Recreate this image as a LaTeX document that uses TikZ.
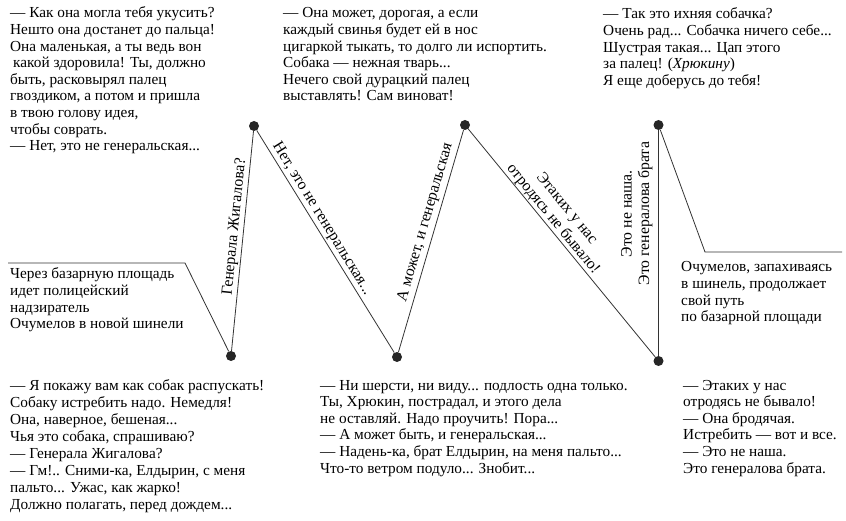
\documentclass[tikz,border=0pt]{standalone}
\usepackage{fontspec}
\setmainfont{Liberation Serif}
\newcommand{\fsz}{\fontsize{15.3}{16.6}\selectfont}
\newcommand{\fszb}{\fontsize{15.3}{17.1}\selectfont}
\newcommand{\fszl}{\fontsize{15.8}{17.5}\selectfont}
\newcommand{\tb}[1]{\begin{tabular}[t]{@{}l@{}}#1\end{tabular}}
\newcommand{\lb}[1]{\begin{tabular}[b]{@{}c@{}}#1\end{tabular}}
\tikzset{
  conn/.style={draw=black!80, line width=0.8pt},
  dot/.style={circle, fill=black!85, inner sep=0pt, minimum size=10pt},
  txt/.style={anchor=base west, inner sep=0pt, font=\fsz},
  lab/.style={sloped, inner sep=0pt, font=\fszl, text depth=0pt}
}
\begin{document}
\begin{tikzpicture}[x=1pt,y=1pt]
\useasboundingbox (0,0) rectangle (846,520);
% path points
\coordinate (s0) at (8,257);
\coordinate (s1) at (185,257);
\node[dot] (p1) at (231,164) {};
\node[dot] (p2) at (254,394) {};
\node[dot] (p3) at (397,163) {};
\node[dot] (p4) at (465,395) {};
\node[dot] (p5) at (658.5,159) {};
\node[dot] (p6) at (658.5,395) {};
\coordinate (e1) at (705,268);
\coordinate (e2) at (842,268);
% connectors
\draw[conn] (s0) -- (s1) -- (p1);
\draw[conn] (p1) -- node[lab, pos=0.56, above=5pt] {Генерала Жигалова?} (p2);
\draw[conn] (p2) -- node[lab, pos=0.42, above=5pt] {Нет, это не генеральская...} (p3);
\draw[conn] (p3) -- node[lab, pos=0.57, above=6.5pt] {А может, и генеральская} (p4);
\draw[conn] (p4) -- node[lab, pos=0.42, above=4pt] {\lb{Этаких у нас\\отродясь не бывало!}} (p5);
\draw[conn] (p5) -- node[lab, pos=0.63, above=9pt] {\lb{Это не наша.\\Это генералова брата}} (p6);
\draw[conn] (p6) -- (e1) -- (e2);
% text blocks
\node[txt] (tl) at (10,502) {\tb{— Как она могла тебя укусить?\\
Нешто она достанет до пальца!\\
Она маленькая, а ты ведь вон\\
\hspace{3pt}какой здоровила! Ты, должно\\
быть, расковырял палец\\
гвоздиком, а потом и пришла\\
в твою голову идея,\\
чтобы соврать.\\
— Нет, это не генеральская...}};
\node[txt] (tm) at (283,502) {\tb{— Она может, дорогая, а если\\
каждый свинья будет ей в нос\\
цигаркой тыкать, то долго ли испортить.\\
Собака — нежная тварь...\\
Нечего свой дурацкий палец\\
выставлять! Сам виноват!}};
\node[txt] (tr) at (603,501) {\tb{— Так это ихняя собачка?\\
Очень рад... Собачка ничего себе...\\
Шустрая такая... Цап этого\\
за палец! (\textit{Хрюкину})\\
Я еще доберусь до тебя!}};
\node[txt] (lm) at (10,241) {\tb{Через базарную площадь\\
идет полицейский\\
надзиратель\\
Очумелов в новой шинели}};
\node[txt] (rm) at (681,248) {\tb{Очумелов, запахиваясь\\
в шинель, продолжает\\
свой путь\\
по базарной площади}};
\node[txt, font=\fszb] (bl) at (10,130) {\tb{— Я покажу вам как собак распускать!\\
Собаку истребить надо. Немедля!\\
Она, наверное, бешеная...\\
Чья это собака, спрашиваю?\\
— Генерала Жигалова?\\
— Гм!.. Сними-ка, Елдырин, с меня\\
пальто... Ужас, как жарко!\\
Должно полагать, перед дождем...}};
\node[txt] (bm) at (320,130) {\tb{— Ни шерсти, ни виду... подлость одна только.\\
Ты, Хрюкин, пострадал, и этого дела\\
не оставляй. Надо проучить! Пора...\\
— А может быть, и генеральская...\\
— Надень-ка, брат Елдырин, на меня пальто...\\
Что-то ветром подуло... Знобит...}};
\node[txt] (br) at (683,130) {\tb{— Этаких у нас\\
отродясь не бывало!\\
— Она бродячая.\\
Истребить — вот и все.\\
— Это не наша.\\
Это генералова брата.}};
\end{tikzpicture}
\end{document}
